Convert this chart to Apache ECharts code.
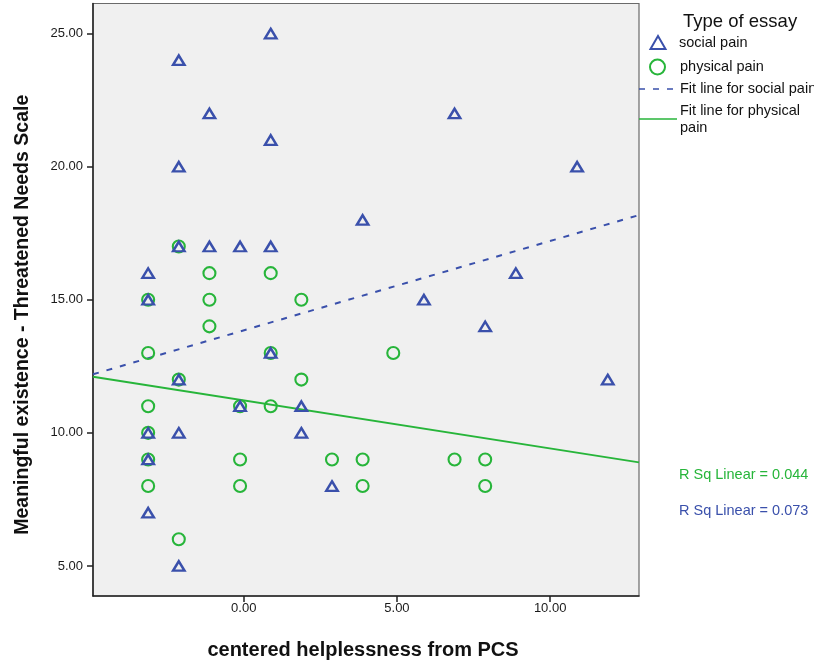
<!DOCTYPE html>
<html>
<head>
<meta charset="utf-8">
<script src="https://cdn.jsdelivr.net/npm/echarts@6/dist/echarts.min.js"></script>
<style>html,body{margin:0;padding:0;background:#fff}#c{width:814px;height:662px}</style>
</head>
<body>
<div id="c"></div>
<script>
// centered helplessness (x) vs Meaningful existence (y)
const socialX = [0.88,-2.12,-1.12,6.88,0.88,-2.12,10.88,3.88,-2.12,-1.12,-0.12,0.88,-3.12,8.88,-3.12,5.88,7.88,0.88,-2.12,11.88,-0.12,1.88,-3.12,-2.12,1.88,-3.12,2.88,-3.12,-2.12];
const socialY = [25,24,22,22,21,20,20,18,17,17,17,17,16,16,15,15,14,13,12,12,11,11,10,10,10,9,8,7,5];
const physicalX = [-2.12,-1.12,0.88,-3.12,-1.12,1.88,-1.12,-3.12,0.88,4.88,-2.12,1.88,-3.12,-0.12,0.88,-3.12,-3.12,-0.12,2.88,3.88,6.88,7.88,-3.12,-0.12,3.88,7.88,-2.12];
const physicalY = [17,16,16,15,15,15,14,13,13,13,12,12,11,11,11,10,9,9,9,9,9,9,8,8,8,8,6];
// fit line end points
const fitSocialX = [-4.92, 12.90];
const fitSocialY = [12.20, 18.18];
const fitPhysicalX = [-4.92, 12.90];
const fitPhysicalY = [12.11, 8.89];
const xTicks = [0, 5, 10];
const yTicks = [5, 10, 15, 20, 25];
const legendTitle = 'Type of essay';
const legendNames = ['social pain', 'physical pain', 'Fit line for social pain', 'Fit line for physical\npain'];
const rSqPhysical = '0.044';
const rSqSocial = '0.073';

const BLUE = '#3a50ab', GREEN = '#27b53a';
const FONT = '"Liberation Sans", Arial, sans-serif';
const zip = (xs, ys) => xs.map((x, i) => [x, ys[i]]);

const legendGraphics = [
  {type: 'text', left: 683, top: 12, style: {text: legendTitle, fill: '#111', font: '18.5px ' + FONT}},
  {type: 'polygon', shape: {points: [[658, 36], [650.5, 49], [665.5, 49]]}, style: {fill: 'none', stroke: BLUE, lineWidth: 2}},
  {type: 'text', left: 679, top: 35, style: {text: legendNames[0], fill: '#111', font: '14.5px ' + FONT}},
  {type: 'circle', shape: {cx: 657.5, cy: 67, r: 7.5}, style: {fill: 'none', stroke: GREEN, lineWidth: 2}},
  {type: 'text', left: 680, top: 59, style: {text: legendNames[1], fill: '#111', font: '14.5px ' + FONT}},
  {type: 'line', shape: {x1: 639, y1: 89, x2: 677, y2: 89}, style: {stroke: BLUE, lineWidth: 1.6, lineDash: [6, 8]}},
  {type: 'text', left: 680, top: 81, style: {text: legendNames[2], fill: '#111', font: '14.5px ' + FONT}},
  {type: 'line', shape: {x1: 639, y1: 119, x2: 677, y2: 119}, style: {stroke: GREEN, lineWidth: 1.6}},
  {type: 'text', left: 680, top: 103, style: {text: legendNames[3], fill: '#111', font: '14.5px ' + FONT, lineHeight: 16.5}}
];

const chart = echarts.init(document.getElementById('c'), null, {renderer: 'canvas'});
chart.setOption({
  animation: false,
  textStyle: {fontFamily: FONT},
  grid: {left: 93, right: 175, top: 3.5, bottom: 66, outerBoundsMode: 'none', containLabel: false,
         show: true, backgroundColor: '#f0f0f0', borderColor: '#6a6a6a', borderWidth: 1.2},
  xAxis: {
    type: 'value', min: -4.92, max: 12.90,
    name: 'centered helplessness from PCS', nameLocation: 'middle', nameGap: 44,
    nameTextStyle: {fontSize: 20, fontWeight: 'bold', color: '#111', fontFamily: FONT, padding: [0, 6, 0, 0]},
    axisLine: {show: true, onZero: false, lineStyle: {color: '#222', width: 1.5}},
    axisTick: {show: true, length: 6, customValues: xTicks, lineStyle: {color: '#222', width: 1.5}},
    axisLabel: {customValues: xTicks, formatter: v => v.toFixed(2), fontSize: 13, color: '#1a1a1a', margin: 6},
    splitLine: {show: false}
  },
  yAxis: {
    type: 'value', min: 3.87, max: 26.13,
    name: 'Meaningful existence - Threatened Needs Scale', nameLocation: 'middle', nameGap: 60,
    nameTextStyle: {fontSize: 19.5, fontWeight: 'bold', color: '#111', fontFamily: FONT, padding: [0, 30, 0, 0]},
    axisLine: {show: true, onZero: false, lineStyle: {color: '#222', width: 1.5}},
    axisTick: {show: true, length: 6, customValues: yTicks, lineStyle: {color: '#222', width: 1.5}},
    axisLabel: {customValues: yTicks, formatter: v => v.toFixed(2), fontSize: 13, color: '#1a1a1a', margin: 10},
    splitLine: {show: false}
  },
  graphic: legendGraphics.concat([
    {type: 'text', left: 679, top: 467, style: {text: 'R Sq Linear = ' + rSqPhysical, fill: GREEN, font: '14.5px ' + FONT}},
    {type: 'text', left: 679, top: 503, style: {text: 'R Sq Linear = ' + rSqSocial, fill: BLUE, font: '14.5px ' + FONT}}
  ]),
  series: [
    {name: legendNames[1], type: 'scatter', symbol: 'circle', symbolSize: 12, data: zip(physicalX, physicalY),
     itemStyle: {color: 'rgba(0,0,0,0)', borderColor: GREEN, borderWidth: 2.1, opacity: 1}, z: 3},
    {name: legendNames[0], type: 'scatter', symbol: 'triangle', symbolSize: [11.5, 9.5], data: zip(socialX, socialY),
     itemStyle: {color: 'rgba(0,0,0,0)', borderColor: BLUE, borderWidth: 2.4, opacity: 1}, z: 4},
    {name: legendNames[2], type: 'line', symbol: 'none', data: zip(fitSocialX, fitSocialY),
     lineStyle: {color: BLUE, width: 2, type: [6, 8]}, z: 2},
    {name: legendNames[3], type: 'line', symbol: 'none', data: zip(fitPhysicalX, fitPhysicalY),
     lineStyle: {color: GREEN, width: 2}, z: 2}
  ]
});
</script>
</body>
</html>
